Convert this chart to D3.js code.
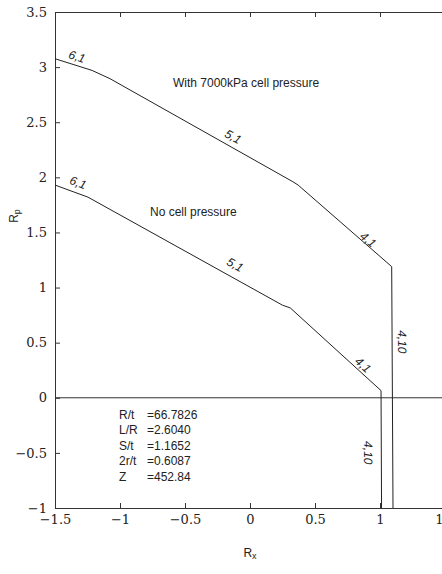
<!DOCTYPE html>
<html>
<head>
<meta charset="utf-8">
<script src="https://cdn.jsdelivr.net/npm/d3@7"></script>
<style>
  body { margin: 0; background: #fff; }
  .lbl { font-family: "Liberation Sans", Arial, sans-serif; font-size: 12px; fill: #222; }
  .ax text { font-family: "DejaVu Serif", "Liberation Serif", serif; font-size: 13px; fill: #222; }
</style>
</head>
<body>
<div id="chart"></div>
<script>
// curve with 7000 kPa cell pressure
var cellX = [-1.5, -1.215, -1.077, 0.33, 0.37, 1.09, 1.10];
var cellY = [3.076, 2.97, 2.895, 1.96, 1.93, 1.19, -1];
// curve with no cell pressure
var noneX = [-1.5, -1.246, 0.25, 0.31, 1.008, 1.012];
var noneY = [1.93, 1.82, 0.84, 0.815, 0.065, -1];

// segment labels: text, position (data units), segment start index
var cellLabels = ["6,1", "5,1", "4,1", "4,10"];
var cellLabX = [-1.331, -0.131, 0.908, 1.169];
var cellLabY = [3.094, 2.368, 1.434, 0.508];
var cellLabSeg = [0, 2, 4, 5];
var noneLabels = ["6,1", "5,1", "4,1", "4,10"];
var noneLabX = [-1.323, -0.115, 0.869, 0.908];
var noneLabY = [1.951, 1.207, 0.299, -0.499];
var noneLabSeg = [0, 1, 3, 4];

var xTicks = [-1.5, -1, -0.5, 0, 0.5, 1, 1.5];
var yTicks = [-1, -0.5, 0, 0.5, 1, 1.5, 2, 2.5, 3, 3.5];

var paramNames = ["R/t", "L/R", "S/t", "2r/t", "Z"];
var paramValues = ["=66.7826", "=2.6040", "=1.1652", "=0.6087", "=452.84"];

var width = 442, height = 574;
var margin = {top: 12, left: 55, bottom: 66};

var svg = d3.select("#chart").append("svg")
    .attr("width", width)
    .attr("height", height);

var x = d3.scaleLinear().domain([-1.5, 1.5]).range([margin.left, 445]);
var y = d3.scaleLinear().domain([-1, 3.5]).range([height - margin.bottom, margin.top]);

var fmt = function(d) { return d3.format("")(d).replace("-", "\u2212"); };

function styleAxis(g) {
    g.attr("class", "ax");
    g.select(".domain").attr("stroke", "#333");
    g.selectAll(".tick line").attr("stroke", "#333");
}

// bottom axis
svg.append("g")
    .attr("transform", "translate(0," + y(-1) + ")")
    .call(d3.axisBottom(x).tickValues(xTicks).tickSizeInner(-5).tickSizeOuter(0).tickPadding(7).tickFormat(fmt))
    .call(styleAxis);

// top axis (ticks only)
svg.append("g")
    .attr("transform", "translate(0," + y(3.5) + ")")
    .call(d3.axisTop(x).tickValues(xTicks).tickSizeInner(-5).tickSizeOuter(0).tickFormat(""))
    .call(styleAxis);

// left axis
svg.append("g")
    .attr("transform", "translate(" + x(-1.5) + ",0)")
    .call(d3.axisLeft(y).tickValues(yTicks).tickSizeInner(-5).tickSizeOuter(0).tickPadding(8).tickFormat(fmt))
    .call(styleAxis);

// zero line
svg.append("line")
    .attr("x1", x(-1.5)).attr("x2", x(1.5))
    .attr("y1", y(0)).attr("y2", y(0))
    .attr("stroke", "#333").attr("stroke-width", 1);

var line = d3.line()
    .x(function(d) { return x(d[0]); })
    .y(function(d) { return y(d[1]); });

function drawCurve(xs, ys, labels, lx, ly, seg) {
    var pts = xs.map(function(v, i) { return [v, ys[i]]; });
    svg.append("path")
        .datum(pts)
        .attr("fill", "none")
        .attr("stroke", "#222")
        .attr("stroke-width", 1)
        .attr("d", line);

    labels.forEach(function(t, i) {
        var a = pts[seg[i]], b = pts[seg[i] + 1];
        var ang = Math.atan2(y(b[1]) - y(a[1]), x(b[0]) - x(a[0])) * 180 / Math.PI;
        svg.append("text")
            .attr("class", "lbl")
            .attr("font-style", "italic")
            .attr("text-anchor", "middle")
            .attr("dominant-baseline", "central")
            .attr("transform", "translate(" + x(lx[i]) + "," + y(ly[i]) + ") rotate(" + ang + ")")
            .text(t);
    });
}

drawCurve(cellX, cellY, cellLabels, cellLabX, cellLabY, cellLabSeg);
drawCurve(noneX, noneY, noneLabels, noneLabX, noneLabY, noneLabSeg);

svg.append("text").attr("class", "lbl")
    .attr("x", 173).attr("y", 83).attr("dominant-baseline", "central")
    .text("With 7000kPa cell pressure");
svg.append("text").attr("class", "lbl")
    .attr("x", 150).attr("y", 212).attr("dominant-baseline", "central")
    .text("No cell pressure");

// parameter block
paramNames.forEach(function(n, i) {
    svg.append("text").attr("class", "lbl")
        .attr("x", 119).attr("y", 415 + i * 15.4).attr("dominant-baseline", "central")
        .text(n);
    svg.append("text").attr("class", "lbl")
        .attr("x", 147).attr("y", 415 + i * 15.4).attr("dominant-baseline", "central")
        .text(paramValues[i]);
});

// axis titles
var xt = svg.append("text").attr("class", "lbl")
    .attr("x", 250).attr("y", 553).attr("text-anchor", "middle")
    .attr("dominant-baseline", "central");
xt.append("tspan").text("R");
xt.append("tspan").attr("font-size", "9px").attr("dy", 3).text("x");

var yt = svg.append("text").attr("class", "lbl")
    .attr("transform", "translate(14,216) rotate(-90)")
    .attr("text-anchor", "middle")
    .attr("dominant-baseline", "central");
yt.append("tspan").text("R");
yt.append("tspan").attr("font-size", "9px").attr("dy", 3).text("p");
</script>
</body>
</html>
